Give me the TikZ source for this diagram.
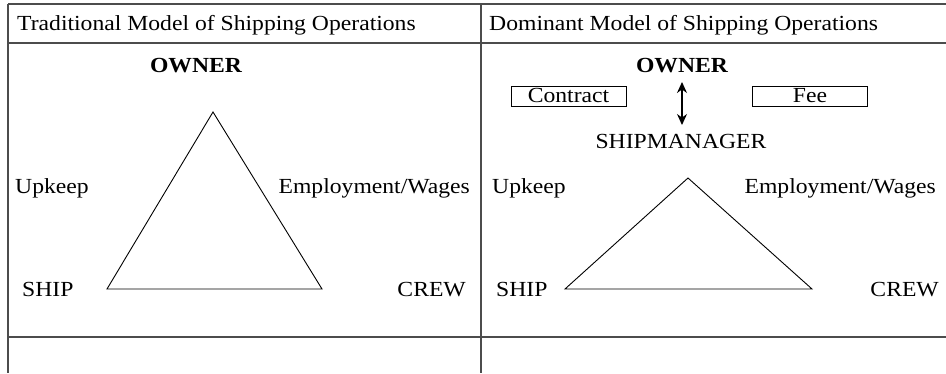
\documentclass[tikz,border=0pt]{standalone}
\usepackage{fontspec}
\setmainfont{Liberation Serif}[FakeStretch=1.1]
\usetikzlibrary{arrows.meta}
\begin{document}
\begin{tikzpicture}[x=1pt,y=-1pt,
  rule/.style={draw=black!70,line width=1.2pt},
  tri/.style={draw=black,line width=0.9pt,line join=miter},
  lbl/.style={inner sep=0pt,font=\fontsize{21.5}{24}\selectfont},
  boxlbl/.style={lbl,draw=black,line width=0.9pt,minimum width=115pt,minimum height=20pt,text height=14pt,text depth=2pt},
  dblarrow/.style={{Stealth[length=11pt,width=10pt]}-{Stealth[length=11pt,width=10pt]},line width=1.2pt}]
\useasboundingbox (0,0) rectangle (946,373);

% table rules
\draw[rule] (8,4) -- (946,4);
\draw[rule] (8,43) -- (946,43);
\draw[rule] (8,337) -- (946,337);
\draw[rule] (8,4) -- (8,373);
\draw[rule] (481,4) -- (481,373);

% headings
\node[lbl,anchor=base west] (hleft) at (17,30) {Traditional Model of Shipping Operations};
\node[lbl,anchor=base west] (hright) at (489,30) {Dominant Model of Shipping Operations};

% traditional model
\node[lbl,anchor=base,font=\fontsize{21.5}{24}\selectfont\bfseries] (ownerL) at (196,72) {OWNER};
\node[lbl,anchor=base west] (upL) at (15,193) {Upkeep};
\node[lbl,anchor=base east] (empL) at (470,193) {Employment/Wages};
\node[lbl,anchor=base west] (shipL) at (22,296) {SHIP};
\node[lbl,anchor=base east] (crewL) at (466,296) {CREW};
\coordinate (tLa) at (213,112);
\coordinate (tLb) at (107,289);
\coordinate (tLc) at (322,289);
\draw[tri] (tLa) -- (tLb) -- (tLc) -- cycle;

% dominant model
\node[lbl,anchor=base,font=\fontsize{21.5}{24}\selectfont\bfseries] (ownerR) at (682,72) {OWNER};
\node[boxlbl] (contract) at (568.5,96) {Contract};
\node[boxlbl] (fee) at (810,96) {Fee};
\node[lbl,anchor=base] (mgr) at (681,148) {SHIPMANAGER};
\coordinate (arrTop) at (682,82);
\coordinate (arrBot) at (682,125);
\draw[dblarrow] (arrTop) -- (arrBot);
\node[lbl,anchor=base west] (upR) at (492,193) {Upkeep};
\node[lbl,anchor=base east] (empR) at (936,193) {Employment/Wages};
\node[lbl,anchor=base west] (shipR) at (496,296) {SHIP};
\node[lbl,anchor=base east] (crewR) at (939,296) {CREW};
\coordinate (tRa) at (688,178);
\coordinate (tRb) at (565,289);
\coordinate (tRc) at (812,289);
\draw[tri] (tRa) -- (tRb) -- (tRc) -- cycle;
\end{tikzpicture}
\end{document}
